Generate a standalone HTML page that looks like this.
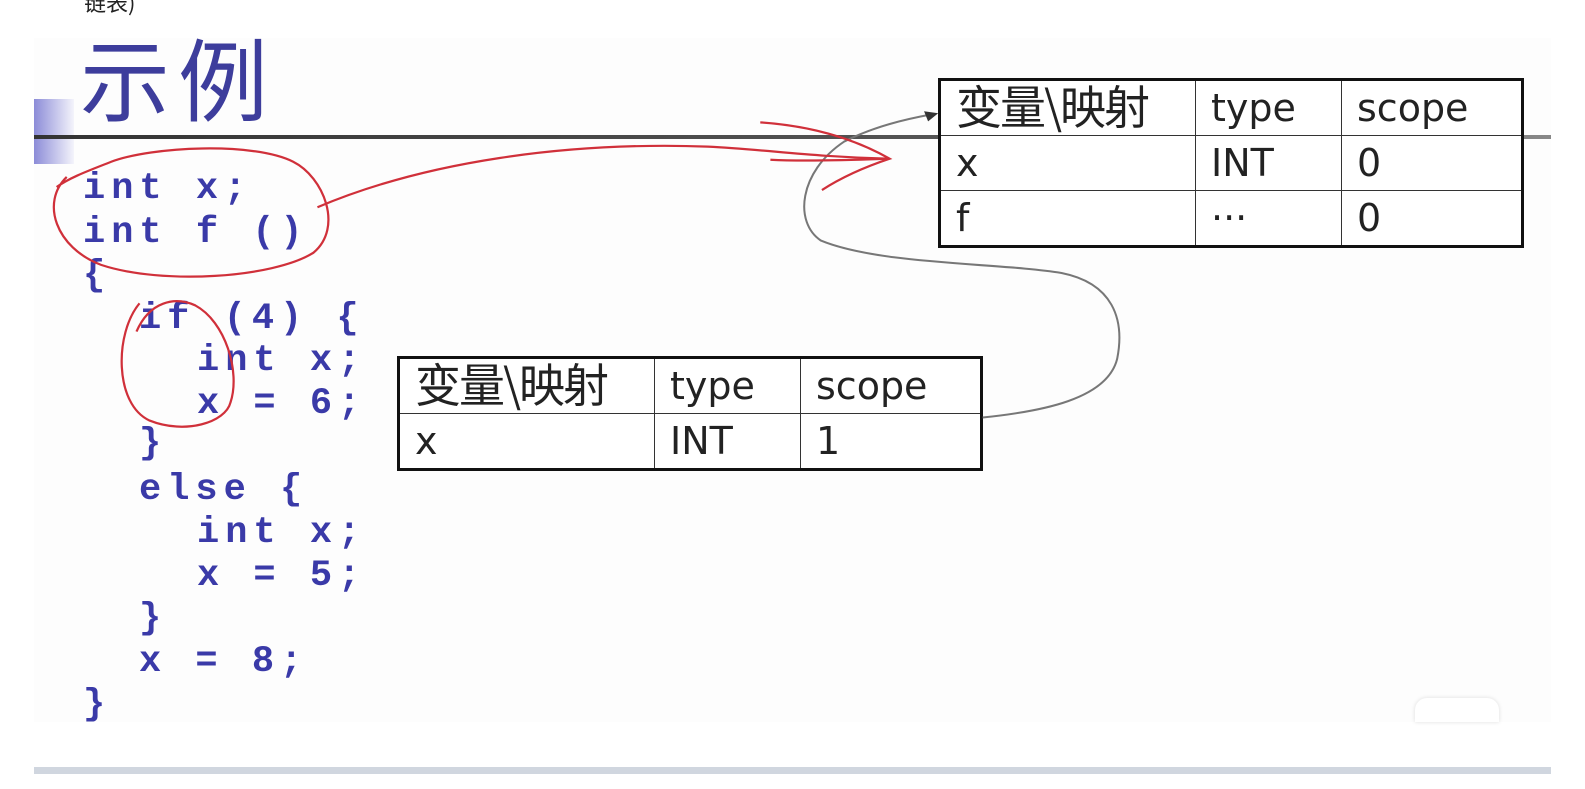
<!DOCTYPE html>
<html><head><meta charset="utf-8"><style>
body{margin:0;width:1585px;height:789px;background:#fff;overflow:hidden;position:relative;font-family:"Liberation Sans","Noto Sans CJK SC",sans-serif}
.slide{position:absolute;left:34px;top:38px;width:1517px;height:684px;background:#fdfdfd}
.code{position:absolute;font-family:"Liberation Mono",monospace;font-weight:bold;color:#3a3aa8;font-size:37px;letter-spacing:6px;white-space:pre;line-height:31px}
table{position:absolute;border-collapse:collapse;border:3px solid #111;background:#fff;table-layout:fixed}
td{border:1.5px solid #333;font-size:38px;color:#222;padding:0 0 0 15px;font-family:"DejaVu Sans","Noto Sans CJK SC",sans-serif;vertical-align:middle;height:54px;line-height:40px;overflow:hidden;white-space:nowrap}
.cj{font-family:"Noto Sans CJK SC",sans-serif;font-size:46px;letter-spacing:-2px}
</style></head><body>
<div style="position:absolute;left:84px;top:-14px;font-size:22px;color:#222;font-family:'Noto Sans CJK SC',sans-serif">链表)</div>
<div class="slide"></div>
<div style="position:absolute;left:34px;top:99px;width:40px;height:65px;background:linear-gradient(90deg,#8c8cd8,#f4f4fb)"></div>
<div style="position:absolute;left:34px;top:135px;width:1517px;height:4px;background:linear-gradient(90deg,#333,#555 60%,#888)"></div>
<div style="position:absolute;left:80px;top:30px;font-size:90px;color:#3d3d9c;font-family:'Noto Sans CJK SC',sans-serif;line-height:90px;letter-spacing:8px">示例</div>
<div class="code" style="left:83px;top:174px">int x;</div>
<div class="code" style="left:83px;top:218px">int f ()</div>
<div class="code" style="left:83px;top:261px">{</div>
<div class="code" style="left:139px;top:304px">if (4) {</div>
<div class="code" style="left:197px;top:346px">int x;</div>
<div class="code" style="left:197px;top:389px">x = 6;</div>
<div class="code" style="left:139px;top:429px">}</div>
<div class="code" style="left:139px;top:475px">else {</div>
<div class="code" style="left:197px;top:518px">int x;</div>
<div class="code" style="left:197px;top:561px">x = 5;</div>
<div class="code" style="left:139px;top:604px">}</div>
<div class="code" style="left:139px;top:647px">x = 8;</div>
<div class="code" style="left:83px;top:690px">}</div>

<table style="left:938px;top:78px;width:586px;height:167px">
<colgroup><col style="width:256px"><col style="width:146px"><col></colgroup>
<tr><td><span class="cj">变量\映射</span></td><td>type</td><td>scope</td></tr>
<tr><td>x</td><td>INT</td><td>0</td></tr>
<tr><td>f</td><td>···</td><td>0</td></tr>
</table>
<table style="left:397px;top:356px;width:586px;height:112px">
<colgroup><col style="width:256px"><col style="width:146px"><col></colgroup>
<tr><td><span class="cj">变量\映射</span></td><td>type</td><td>scope</td></tr>
<tr><td>x</td><td>INT</td><td>1</td></tr>
</table>

<div style="position:absolute;left:1415px;top:698px;width:84px;height:24px;background:#fff;border-radius:12px 12px 0 0;box-shadow:0 0 4px #ddd"></div>
<div style="position:absolute;left:34px;top:767px;width:1517px;height:7px;background:#d0d6df"></div>

<svg width="1585" height="789" style="position:absolute;left:0;top:0" fill="none">
<g transform="scale(1.011)">
<path d="M972,413 C1030,407 1095,395 1105,355 C1113,315 1100,280 1050,270 C990,260 870,262 812,238 C785,220 790,170 835,140 C865,125 895,118 922,113" stroke="#777" stroke-width="2"/>
<path d="M928,112 L914,110 L918,120 Z" fill="#333"/>
<g stroke="#d0303a" stroke-width="2.2">
<path d="M66,175 C40,200 55,245 100,262 C160,282 270,275 310,250 C340,225 320,175 290,160 C250,140 150,145 110,160 C90,168 70,175 56,185"/>
<path d="M314,205 C420,160 560,140 700,145 C760,148 800,155 880,157"/>
<path d="M752,121 C810,125 850,140 880,157 C850,167 830,177 813,188"/>
<path d="M762,158 C800,160 850,158 878,157"/>
<path d="M138,300 C113,330 113,400 148,416 C183,430 223,418 228,398 C238,368 223,318 193,302 C173,293 148,298 135,328"/>
</g>
</g>
</svg>
</body></html>
